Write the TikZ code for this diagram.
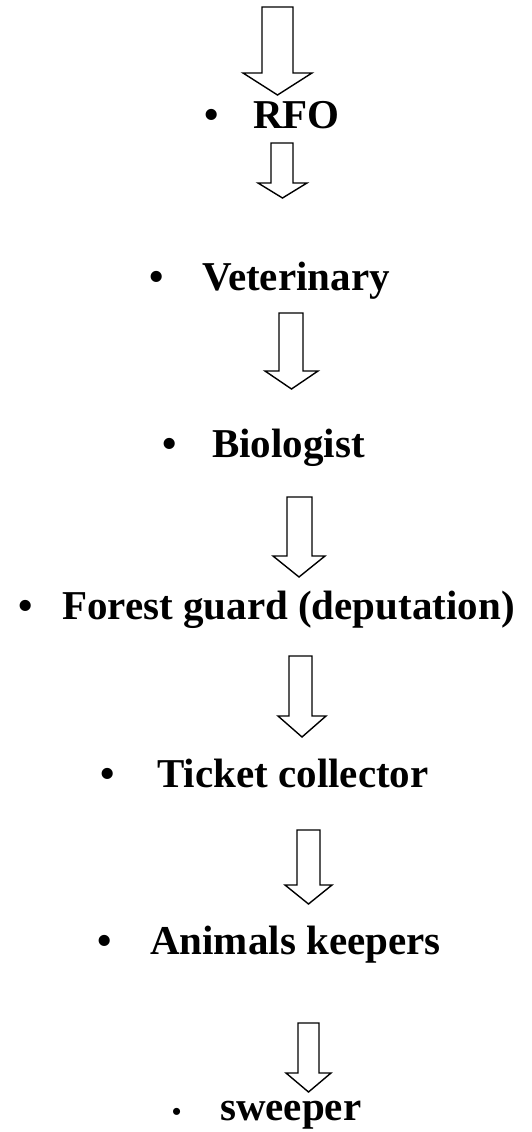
\documentclass[tikz,border=0pt]{standalone}
\usepackage{fontspec}
\setmainfont{Liberation Serif}
\usepackage{tikz}
\usetikzlibrary{
    calc,
    positioning
}

\tikzset{
    post/.style={anchor=base west, inner sep=0pt, font=\fontsize{41}{49}\selectfont\bfseries},
    blockarrow/.style={draw=black, line width=1.4pt, fill=white, line join=miter}
}

\begin{document}
\begin{tikzpicture}[x=1pt, y=-1pt]
                                \useasboundingbox (0, 0) rectangle (531, 1132);
                                \node[post] (rfo) at (253, 128) {\llap{\textbullet\hspace{34pt}}RFO};
                                \node[post] (vet) at (202, 290) {\llap{\textbullet\hspace{38pt}}Veterinary};
                                \node[post] (bio) at (212, 457) {\llap{\textbullet\hspace{35pt}}Biologist};
                                \node[post] (guard) at (62, 619) {\llap{\textbullet\hspace{29pt}}Forest guard (deputation)};
                                \node[post] (ticket) at (157, 787) {\llap{\textbullet\hspace{42pt}}Ticket collector};
                                \node[post] (keeper) at (150, 954) {\llap{\textbullet\hspace{38pt}}Animals keepers};
                                \node[post] (sweeper) at (220, 1120) {\llap{{\fontsize{26}{30}\selectfont\textbullet}\hspace{39pt}}sweeper};
                                \draw[blockarrow] (262, 7) -- (293, 7) -- (293, 73) -- (312, 73) -- (277.5, 95) -- (243, 73) -- (262, 73) -- cycle;
                                \draw[blockarrow] (271, 143) -- (293, 143) -- (293, 183) -- (307, 183) -- (282.5, 198) -- (258, 183) -- (271, 183) -- cycle;
                                \draw[blockarrow] (279, 313) -- (303, 313) -- (303, 371) -- (318, 371) -- (291.5, 389) -- (265, 371) -- (279, 371) -- cycle;
                                \draw[blockarrow] (287, 497) -- (312, 497) -- (312, 556) -- (325, 556) -- (299, 577) -- (273, 556) -- (287, 556) -- cycle;
                                \draw[blockarrow] (289, 656) -- (312, 656) -- (312, 716) -- (326, 716) -- (302, 737) -- (278, 716) -- (289, 716) -- cycle;
                                \draw[blockarrow] (297, 830) -- (320, 830) -- (320, 885) -- (332, 885) -- (308.5, 904) -- (285, 885) -- (297, 885) -- cycle;
                                \draw[blockarrow] (298, 1023) -- (319, 1023) -- (319, 1073) -- (331, 1073) -- (308.5, 1092) -- (286, 1073) -- (298, 1073) -- cycle;
                            \end{tikzpicture}
\end{document}
